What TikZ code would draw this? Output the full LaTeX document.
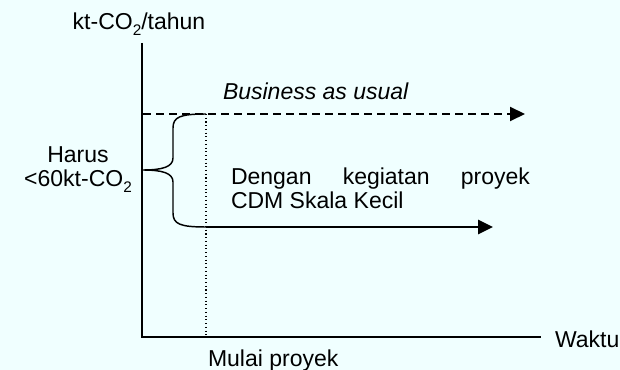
\documentclass[tikz,border=0pt]{standalone}
\usepackage{fontspec}
\setmainfont{Liberation Sans}
\usetikzlibrary{arrows.meta}
\definecolor{bgc}{RGB}{240,255,255}
\newcommand{\subtwo}{\raisebox{-4pt}{\fontsize{11.5}{11.5}\selectfont 2}}
\begin{document}
\begin{tikzpicture}[x=0.75pt,y=-0.75pt,
  lbl/.style={inner sep=0pt,outer sep=0pt,font=\fontsize{17.25}{18.5}\selectfont},
  axis/.style={line width=1.1pt},
  bau/.style={line width=1.5pt,dash pattern=on 6pt off 3.75pt,-{Triangle[length=11.25pt,width=10.5pt]}},
  proj/.style={line width=2pt,-{Triangle[length=11.25pt,width=10.5pt]}},
  start/.style={line width=0.8pt,dotted},
  bracep/.style={line width=1.1pt}]
\fill[bgc] (0,0) rectangle (620,370);
\useasboundingbox (0,0) rectangle (620,370);
% coordinates
\coordinate (O) at (142,337);
\coordinate (ytop) at (142,43);
\coordinate (xend) at (541,337);
\coordinate (bauA) at (143,114);
\coordinate (bauB) at (525,114);
\coordinate (prA) at (206,227);
\coordinate (prB) at (493,227);
\coordinate (dotTop) at (206,114);
\coordinate (dotBot) at (206,337);
% axes
\draw[axis] (ytop) -- (O) -- (xend);
% start line
\draw[start] (dotTop) -- (dotBot);
% business as usual
\draw[bau] (bauA) -- (bauB);
% project line
\draw[proj] (prA) -- (prB);
% brace
\draw[bracep] (dotTop) .. controls (180,114) and (173,117) .. (173,128)
  -- (173,158) .. controls (173,167) and (162,170) .. (143,170)
  .. controls (162,170) and (173,173) .. (173,182)
  -- (173,213) .. controls (173,224) and (180,227) .. (prA);
% labels
\node[lbl,anchor=base] (ylab) at (139,30) {kt-CO\subtwo/tahun};
\node[lbl,anchor=base west,font=\fontsize{17.25}{18.5}\selectfont\itshape] (baulab) at (223,100) {Business as usual};
\node[lbl,anchor=base,align=center] (harus) at (78,187) {Harus\\<60kt-CO\subtwo};
\node[lbl,anchor=base west,align=left] (prlab) at (231,209) {\hbox to 224.25pt{Dengan\hfill kegiatan\hfill proyek}\\CDM Skala Kecil};
\node[lbl,anchor=base west] (mulai) at (208,366) {Mulai proyek};
\node[lbl,anchor=base west] (waktu) at (555,347) {Waktu};
\end{tikzpicture}
\end{document}
